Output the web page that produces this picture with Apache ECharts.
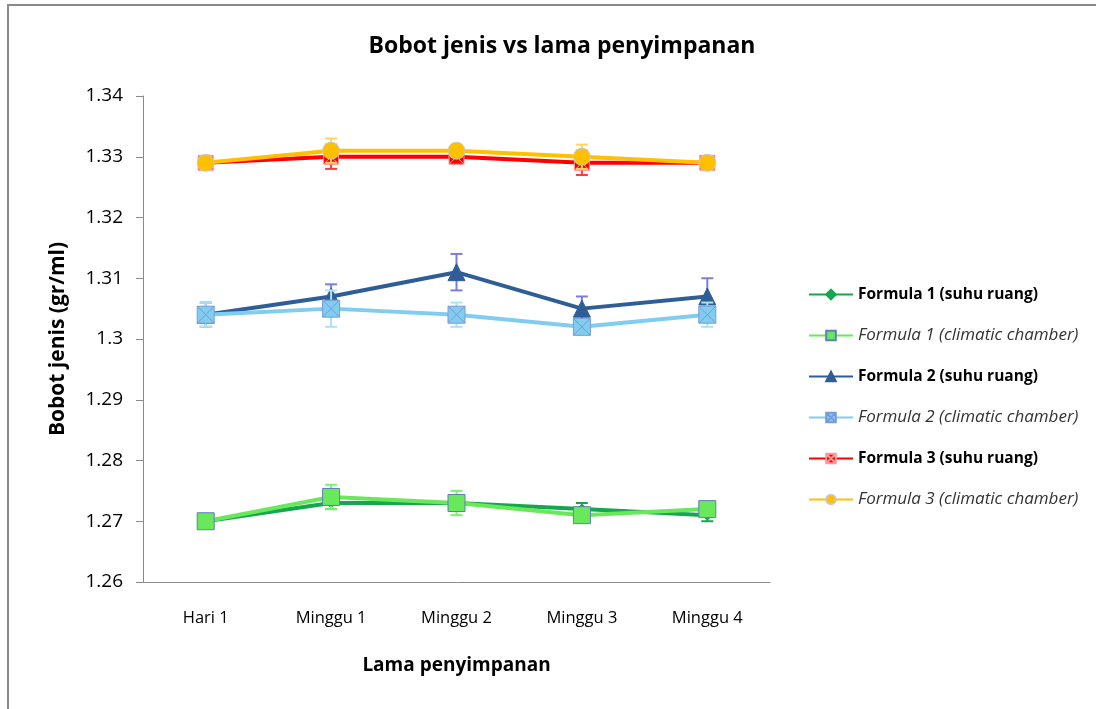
<!DOCTYPE html>
<html>
<head>
<meta charset="utf-8">
<script src="https://cdn.jsdelivr.net/npm/echarts@6/dist/echarts.min.js"></script>
<style>
  html, body { margin: 0; padding: 0; background: #fff; }
  #chart { width: 1096px; height: 709px; }
</style>
</head>
<body>
<div id="chart"></div>
<script>
const categories = ['Hari 1', 'Minggu 1', 'Minggu 2', 'Minggu 3', 'Minggu 4']
const yTicks = { min: 1.26, max: 1.34, step: 0.01 }

const f1Suhu = [1.270, 1.273, 1.273, 1.272, 1.271]
const f1Chamber = [1.270, 1.274, 1.273, 1.271, 1.272]
const f2Suhu = [1.304, 1.307, 1.311, 1.305, 1.307]
const f2Chamber = [1.304, 1.305, 1.304, 1.302, 1.304]
const f3Suhu = [1.329, 1.330, 1.330, 1.329, 1.329]
const f3Chamber = [1.329, 1.331, 1.331, 1.330, 1.329]

// error bar half-widths (± value)
const f1SuhuErr = [0.0005, 0.001, 0.001, 0.001, 0.001]
const f1ChamberErr = [0.001, 0.002, 0.002, 0.001, 0.001]
const f2SuhuErr = [0.002, 0.002, 0.003, 0.002, 0.003]
const f2ChamberErr = [0.002, 0.003, 0.002, 0.001, 0.002]
const f3SuhuErr = [0.001, 0.002, 0.001, 0.002, 0.001]
const f3ChamberErr = [0.001, 0.002, 0.001, 0.002, 0.001]

const FONT = 'Open Sans'
const boxX = 'path://M0,0 L10,0 L10,10 L0,10 Z M0,0 L10,10 M10,0 L0,10'

const defs = [
  { name: 'Formula 1 (suhu ruang)', data: f1Suhu, err: f1SuhuErr, color: '#14a84e', errColor: '#14a84e', symbol: 'diamond', size: 10, border: '#14a84e', italic: false },
  { name: 'Formula 1 (climatic chamber)', data: f1Chamber, err: f1ChamberErr, color: '#6ae85c', errColor: '#7ef070', symbol: 'rect', size: 17, border: '#5c7fb8', italic: true },
  { name: 'Formula 2 (suhu ruang)', data: f2Suhu, err: f2SuhuErr, color: '#2f5e97', errColor: '#7b7ee0', symbol: 'triangle', size: 17, border: '#2f5e97', italic: false },
  { name: 'Formula 2 (climatic chamber)', data: f2Chamber, err: f2ChamberErr, color: '#80cdf0', errColor: '#a8e4f6', symbol: boxX, size: 17, border: '#7a9ad8', italic: true },
  { name: 'Formula 3 (suhu ruang)', data: f3Suhu, err: f3SuhuErr, color: '#ff0000', errColor: '#ff3a3a', symbol: boxX, size: 15, border: '#ff9a9a', italic: false },
  { name: 'Formula 3 (climatic chamber)', data: f3Chamber, err: f3ChamberErr, color: '#ffc000', errColor: '#ffd45a', symbol: 'circle', size: 17, border: '#c8c8c8', italic: true },
]

function errorBarSeries(d, i) {
  return {
    type: 'custom',
    name: d.name + ' err',
    z: 1 + i * 2,
    silent: true,
    data: d.data.map((v, k) => [k, v - d.err[k], v + d.err[k]]),
    renderItem(params, api) {
      const lo = api.coord([api.value(0), api.value(1)])
      const hi = api.coord([api.value(0), api.value(2)])
      const w = 6
      const style = { stroke: d.errColor, lineWidth: 2 }
      return {
        type: 'group',
        children: [
          { type: 'line', shape: { x1: lo[0], y1: lo[1], x2: hi[0], y2: hi[1] }, style },
          { type: 'line', shape: { x1: lo[0] - w, y1: lo[1], x2: lo[0] + w, y2: lo[1] }, style },
          { type: 'line', shape: { x1: hi[0] - w, y1: hi[1], x2: hi[0] + w, y2: hi[1] }, style },
        ],
      }
    },
  }
}

const lineSeries = defs.map((d, i) => ({
  type: 'line',
  name: d.name,
  data: d.data,
  z: 2 + i * 2,
  symbol: d.symbol,
  symbolSize: d.size,
  showAllSymbol: true,
  lineStyle: { color: d.color, width: 4 },
  itemStyle: { color: d.color, borderColor: d.border, borderWidth: 1 },
  emphasis: { disabled: true },
  animation: false,
}))

const chart = echarts.init(document.getElementById('chart'))
chart.setOption({
  animation: false,
  graphic: [{
    type: 'rect',
    shape: { x: 8, y: 5, width: 1200, height: 800 },
    style: { fill: 'none', stroke: '#8a8a8a', lineWidth: 2 },
    silent: true,
  }],
  title: {
    text: 'Bobot jenis vs lama penyimpanan',
    left: 557,
    top: 30,
    textAlign: 'center',
    textStyle: { fontFamily: FONT, fontSize: 23, fontWeight: 'bold', color: '#000' },
  },
  grid: { left: 143, right: 326, top: 96, bottom: 127, containLabel: false },
  legend: {
    orient: 'vertical',
    left: 803,
    top: 279,
    itemWidth: 44,
    itemHeight: 12,
    itemGap: 20,
    textStyle: { fontFamily: FONT, fontSize: 15.5, color: '#000', lineHeight: 21 },
    data: defs.map(d => ({
      name: d.name,
      textStyle: d.italic
        ? { fontStyle: 'italic', fontWeight: 'normal', fontSize: 17, color: '#333' }
        : { fontWeight: 'bold', fontSize: 15.5, color: '#000' },
    })),
  },
  xAxis: {
    type: 'category',
    data: categories,
    boundaryGap: true,
    name: 'Lama penyimpanan',
    nameLocation: 'middle',
    nameGap: 74,
    nameTextStyle: { fontFamily: FONT, fontSize: 19, fontWeight: 'bold', color: '#000' },
    axisLine: { lineStyle: { color: '#8a8a8a', width: 1 } },
    axisTick: { show: false },
    axisLabel: { fontFamily: FONT, fontSize: 16.5, color: '#000', margin: 28 },
  },
  yAxis: {
    type: 'value',
    min: yTicks.min,
    max: yTicks.max,
    interval: yTicks.step,
    name: 'Bobot jenis (gr/ml)',
    nameLocation: 'middle',
    nameGap: 74,
    nameTextStyle: { fontFamily: FONT, fontSize: 21, fontWeight: 'bold', color: '#000' },
    axisLine: { show: true, lineStyle: { color: '#8a8a8a', width: 1 } },
    axisTick: { show: true, length: 7, lineStyle: { color: '#8a8a8a' } },
    splitLine: { show: false },
    axisLabel: {
      fontFamily: FONT,
      fontSize: 19,
      color: '#000',
      margin: 20,
      formatter: v => String(+v.toFixed(2)),
    },
  },
  series: [...defs.map(errorBarSeries), ...lineSeries],
})
</script>
</body>
</html>
